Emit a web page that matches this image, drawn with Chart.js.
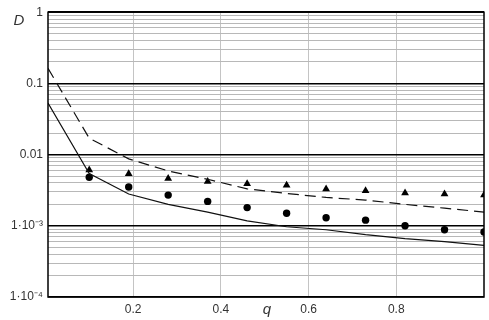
<!DOCTYPE html>
<html>
<head>
<meta charset="utf-8">
<title>D vs q</title>
<script src="https://cdn.jsdelivr.net/npm/chart.js@4.4.0/dist/chart.umd.min.js"></script>
<style>
  body { margin: 0; background: #fff; }
  #wrap { width: 489px; height: 320px; }
</style>
</head>
<body>
<div id="wrap"><canvas id="chart"></canvas></div>
<script>
// q values of the measured points
const qPoints = [0.1, 0.19, 0.28, 0.37, 0.46, 0.55, 0.64, 0.73, 0.82, 0.91, 1.0];
const triangles = [0.0061, 0.0054, 0.0046, 0.0042, 0.0039, 0.0037, 0.0033, 0.0031, 0.0029, 0.0028, 0.0027];
const circles = [0.0048, 0.0035, 0.0027, 0.0022, 0.0018, 0.0015, 0.0013, 0.0012, 0.0010, 0.00088, 0.00082];

// q values of the two curves
const qCurve = [0.006, 0.1, 0.19, 0.28, 0.37, 0.46, 0.55, 0.64, 0.73, 0.82, 0.91, 1.0];
const solidCurve = [0.053, 0.0054, 0.0028, 0.0020, 0.00156, 0.00117, 0.00097, 0.00088, 0.00075, 0.00066, 0.0006, 0.00053];
const dashedCurve = [0.163, 0.017, 0.0087, 0.0059, 0.0045, 0.0033, 0.00285, 0.0025, 0.0023, 0.0020, 0.00177, 0.00156];

const xTicks = [0.2, 0.4, 0.6, 0.8];
const yDecades = [1e-4, 1e-3, 0.01, 0.1, 1];
const yLabels = ['1·10⁻⁴', '1·10⁻³', '0.01', '0.1', '1'];

function toPoints(xs, ys) {
    let pts = [];
    for (let i = 0; i < xs.length; i++) {
        pts.push({x: xs[i], y: ys[i]});
    }
    return pts;
}

function isDecade(v) {
    return yDecades.some(d => Math.abs(v / d - 1) < 1e-6);
}

// frame + axis names
const extras = {
    id: 'extras',
    afterDraw(chart) {
        const ctx = chart.ctx;
        const a = chart.chartArea;
        ctx.save();
        ctx.strokeStyle = '#000';
        ctx.lineWidth = 1.5;
        ctx.strokeRect(a.left, a.top, a.right - a.left, a.bottom - a.top);
        ctx.fillStyle = '#333';
        ctx.textAlign = 'center';
        ctx.textBaseline = 'middle';
        ctx.font = 'italic 15px "Liberation Sans"';
        ctx.fillText('D', 19, 21);
        ctx.fillText('q', 267, 310);
        ctx.restore();
    }
};

const font = {family: '"Liberation Sans"', size: 12};

new Chart(document.getElementById('chart'), {
    type: 'scatter',
    data: {
        datasets: [
            {
                label: 'solid',
                data: toPoints(qCurve, solidCurve),
                showLine: true,
                borderColor: '#111',
                borderWidth: 1.2,
                pointRadius: 0,
                tension: 0
            },
            {
                label: 'dashed',
                data: toPoints(qCurve, dashedCurve),
                showLine: true,
                borderColor: '#111',
                borderWidth: 1.2,
                borderDash: [11, 6],
                pointRadius: 0,
                tension: 0
            },
            {
                label: 'triangles',
                data: toPoints(qPoints, triangles),
                pointStyle: 'triangle',
                pointRadius: 4.5,
                backgroundColor: '#000',
                borderColor: '#000',
                borderWidth: 0,
                clip: 0
            },
            {
                label: 'circles',
                data: toPoints(qPoints, circles),
                pointStyle: 'circle',
                pointRadius: 3.7,
                backgroundColor: '#000',
                borderColor: '#000',
                borderWidth: 0,
                clip: 0
            }
        ]
    },
    options: {
        responsive: true,
        maintainAspectRatio: false,
        animation: false,
        layout: {padding: {top: 8, right: 5, left: 0, bottom: 0}},
        plugins: {
            legend: {display: false},
            tooltip: {enabled: false}
        },
        scales: {
            x: {
                type: 'linear',
                min: 0.006,
                max: 1.0,
                afterBuildTicks: (scale) => {
                    scale.ticks = xTicks.map(v => ({value: v}));
                },
                afterFit: (scale) => { scale.height = 23; },
                ticks: {
                    font: font,
                    color: '#333',
                    padding: 5,
                    maxRotation: 0,
                    callback: (v) => v.toFixed(1)
                },
                grid: {color: '#c4c4c4', lineWidth: 1, drawTicks: false},
                border: {display: false}
            },
            y: {
                type: 'logarithmic',
                min: 1e-4,
                max: 1,
                afterBuildTicks: (scale) => {
                    let t = [];
                    for (let e = -4; e < 0; e++) {
                        for (let m = 1; m < 10; m++) {
                            t.push({value: m * Math.pow(10, e)});
                        }
                    }
                    t.push({value: 1});
                    scale.ticks = t;
                },
                afterFit: (scale) => { scale.width = 48; },
                ticks: {
                    font: font,
                    color: '#333',
                    padding: 5,
                    autoSkip: false,
                    callback: (v) => {
                        for (let i = 0; i < yDecades.length; i++) {
                            if (Math.abs(v / yDecades[i] - 1) < 1e-6) return yLabels[i];
                        }
                        return '';
                    }
                },
                grid: {
                    drawTicks: false,
                    color: (c) => (c.tick && isDecade(c.tick.value)) ? '#000' : '#b8b8b8',
                    lineWidth: (c) => (c.tick && isDecade(c.tick.value)) ? 1.5 : 1
                },
                border: {display: false}
            }
        }
    },
    plugins: [extras]
});
</script>
</body>
</html>
